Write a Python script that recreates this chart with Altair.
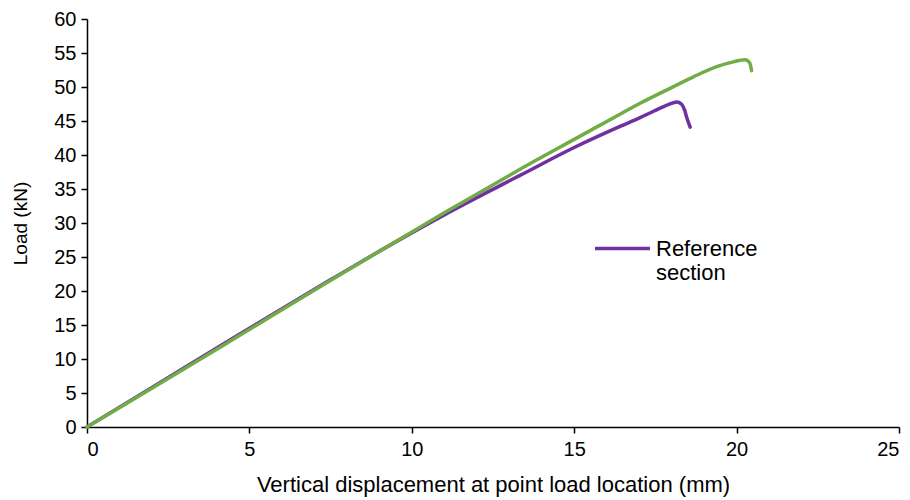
import altair as alt
import pandas as pd

ref_x = [0, 2, 4.4, 7.48, 9.02, 11, 12.72, 13.33, 15, 16.41, 17.03, 17.43, 17.9, 18.16, 18.3, 18.4, 18.46, 18.57]
ref_y = [0, 5.8, 12.8, 21.6, 25.9, 31.2, 35.5, 37.0, 41.1, 44.2, 45.5, 46.4, 47.4, 47.8, 47.5, 46.6, 45.6, 44.1]

mod_x = [0, 2, 4.4, 7.48, 9.02, 11, 12.72, 13.33, 15, 16.41, 17.03, 17.95, 18.67, 19.39, 19.9, 20.26, 20.4, 20.46]
mod_y = [0, 5.7, 12.6, 21.5, 25.9, 31.5, 36.2, 37.9, 42.3, 46.0, 47.6, 49.8, 51.5, 53.0, 53.7, 54.0, 53.6, 52.4]

series_names = ["Reference section", "Modified section"]
colors = ["#7030A0", "#70AD47"]

rows = []
for i, (x, y) in enumerate(zip(ref_x, ref_y)):
    rows.append({"x": x, "y": y, "series": series_names[0], "idx": i})
for i, (x, y) in enumerate(zip(mod_x, mod_y)):
    rows.append({"x": x, "y": y, "series": series_names[1], "idx": i})
df = pd.DataFrame(rows)

FONT = "Liberation Sans"

chart = alt.Chart(df).mark_line(strokeWidth=3.5, strokeCap="round", strokeJoin="round", interpolate="monotone").encode(
    x=alt.X("x:Q", scale=alt.Scale(domain=[0, 25], nice=False),
            axis=alt.Axis(title="Vertical displacement at point load location (mm)", values=[0, 5, 10, 15, 20, 25],
                          format="d", grid=False, domainColor="black", tickColor="black", tickSize=6,
                          domainWidth=1.5, tickWidth=1.5,
                          labelFontSize=20, titleFontSize=22, labelColor="black", titleColor="black",
                          labelFont=FONT, titleFont=FONT, titleFontWeight="normal", labelPadding=6, titlePadding=15)),
    y=alt.Y("y:Q", scale=alt.Scale(domain=[0, 60], nice=False),
            axis=alt.Axis(title="Load (kN)", values=list(range(0, 61, 5)), grid=False,
                          domainColor="black", tickColor="black", tickSize=6, domainWidth=1.5, tickWidth=1.5,
                          labelFontSize=20, titleFontSize=19, labelColor="black", titleColor="black",
                          labelFont=FONT, titleFont=FONT, titleFontWeight="normal", labelPadding=5, titlePadding=23)),
    color=alt.Color("series:N", scale=alt.Scale(domain=series_names, range=colors),
                    legend=alt.Legend(values=[series_names[0]], title=None, orient="none",
                                      legendX=506, legendY=200, symbolType="stroke", symbolSize=3025,
                                      symbolStrokeWidth=3.5, labelFontSize=22, labelFont=FONT, labelColor="black",
                                      labelExpr="datum.label == 'Reference section' ? ['Reference', 'section'] : datum.label",
                                      labelLimit=300, labelOffset=4)),
    detail="series:N",
    order="idx:Q",
).properties(
    width=812, height=408,
    padding={"left": 87, "top": 19, "right": 11, "bottom": 73},
    autosize=alt.AutoSizeParams(type="none"),
).configure_view(stroke=None)

chart.save("out.html", embed_options={"renderer": "svg", "actions": False})
